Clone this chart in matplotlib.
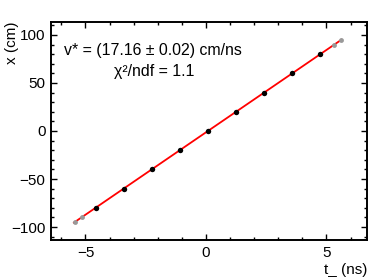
import matplotlib
matplotlib.use("Agg")
import matplotlib.pyplot as plt
from matplotlib.ticker import MultipleLocator
import numpy as np

plt.rcParams['font.family'] = ['Liberation Sans', 'DejaVu Sans']
plt.rcParams['font.size'] = 11

# fit parameters
v_fit = 17.16
t0_fit = 0.08
line_t_range = [-5.48, 5.62]

# data points used in the fit
t_fit = [-4.58, -3.42, -2.25, -1.08, 0.08, 1.24, 2.41, 3.58, 4.74]
x_fit = [-80, -60, -40, -20, 0, 20, 40, 60, 80]
# points excluded from the fit
t_excl = [-5.45, -5.16, 5.32, 5.61]
x_excl = [-95, -90, 90, 95]

fig = plt.figure(figsize=(3.9, 2.8), dpi=100)
ax = fig.add_axes([0.1308, 0.1429, 0.8102, 0.7785])

tl = np.array(line_t_range)
ax.plot(tl, v_fit * (tl - t0_fit), color='#ff0000', lw=1.3, zorder=2)
ax.plot(t_excl, x_excl, 'o', color='#999999', ms=3.5, mew=0, zorder=3)
ax.plot(t_fit, x_fit, 'o', color='black', ms=3.9, mew=0, zorder=4)

ax.set_xlim(-6.43, 6.68)
ax.set_ylim(-113.5, 113.5)
ax.xaxis.set_major_locator(MultipleLocator(5))
ax.xaxis.set_minor_locator(MultipleLocator(1))
ax.yaxis.set_major_locator(MultipleLocator(50))
ax.yaxis.set_minor_locator(MultipleLocator(10))
ax.tick_params(which='both', direction='in', top=True, right=True, width=1.0)
ax.tick_params(which='major', length=4.5, pad=4)
ax.tick_params(which='minor', length=2.3)
for s in ax.spines.values():
    s.set_linewidth(1.4)

fig.text(367 / 390, 1 - 270 / 280, 't_ (ns)', ha='right', va='center')
fig.text(12 / 390, 1 - 21 / 280, 'x (cm)', rotation=90, ha='center', va='top')

ax.text(0.041, 0.867, 'v* = (17.16 ± 0.02) cm/ns', transform=ax.transAxes,
        ha='left', va='center', fontsize=11.4)
ax.text(0.199, 0.772, 'χ²/ndf = 1.1', transform=ax.transAxes,
        ha='left', va='center', fontsize=11.4)

fig.savefig('out.png', dpi=100)
